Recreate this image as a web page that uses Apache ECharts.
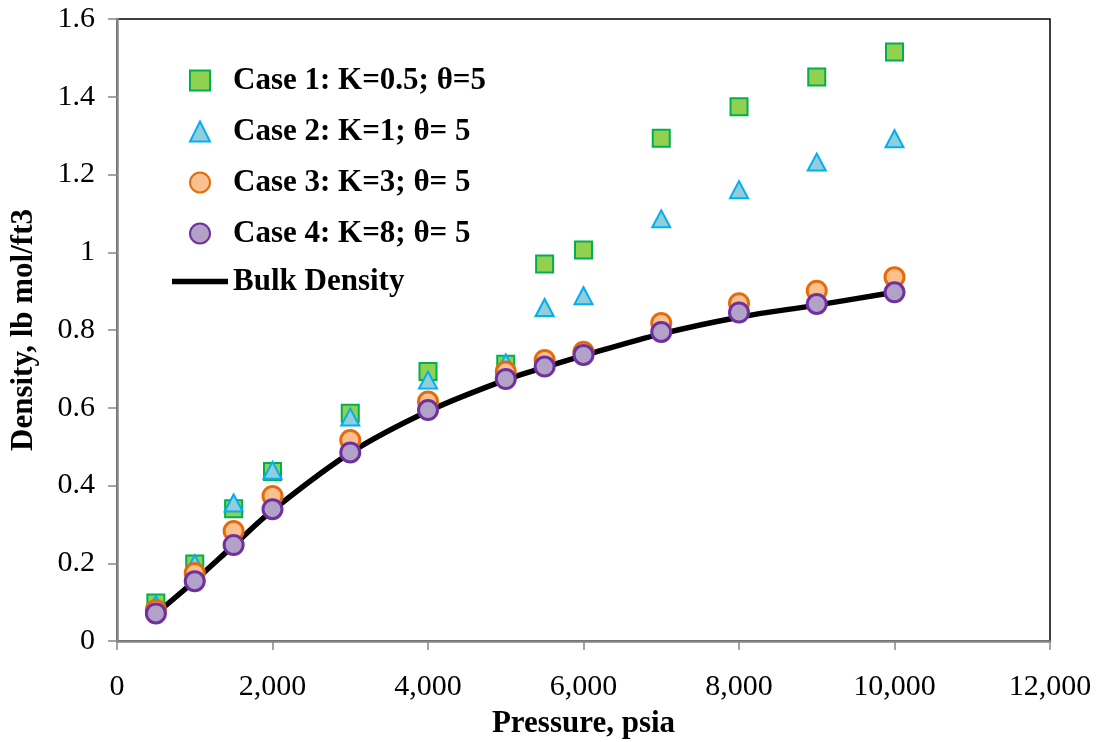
<!DOCTYPE html>
<html>
<head>
<meta charset="utf-8">
<script src="https://cdn.jsdelivr.net/npm/echarts@6/dist/echarts.min.js"></script>
<style>
  html, body { margin: 0; padding: 0; background: #fff; }
  #chart { width: 1106px; height: 742px; }
</style>
</head>
<body>
<div id="chart"></div>
<script>
// Pressure (psia) and adsorbed-phase density (lb mol/ft3) for each case
const pressure = [500, 1000, 1500, 2000, 3000, 4000, 5000, 5500, 6000, 7000, 8000, 9000, 10000];
const case1 = [0.098, 0.198, 0.340, 0.436, 0.586, 0.693, 0.712, 0.970, 1.006, 1.293, 1.374, 1.451, 1.515];
const case2 = [0.094, 0.199, 0.355, 0.439, 0.576, 0.671, 0.715, 0.858, 0.888, 1.086, 1.161, 1.232, 1.292];
const case3 = [0.080, 0.175, 0.283, 0.373, 0.517, 0.616, 0.693, 0.723, 0.744, 0.818, 0.869, 0.901, 0.936];
const case4 = [0.071, 0.154, 0.247, 0.339, 0.485, 0.594, 0.674, 0.706, 0.736, 0.795, 0.845, 0.867, 0.897];
const bulk  = [0.070, 0.155, 0.246, 0.336, 0.484, 0.591, 0.672, 0.704, 0.734, 0.790, 0.833, 0.864, 0.897];

const seriesNames = [
  'Case 1: K=0.5; θ=5',
  'Case 2: K=1; θ= 5',
  'Case 3: K=3; θ= 5',
  'Case 4: K=8; θ= 5',
  'Bulk Density'
];

const pairs = arr => pressure.map((p, i) => [p, arr[i]]);

const FONT = '"Liberation Serif", "Times New Roman", serif';
const AXIS_GREY = '#868686';
const legendText = {
  fontFamily: FONT, fontWeight: 'bold', fontSize: 31, color: '#000', lineHeight: 31
};

const chart = echarts.init(document.getElementById('chart'), null, { renderer: 'canvas' });

chart.setOption({
  animation: false,
  backgroundColor: '#ffffff',
  grid: {
    left: 117, right: 56, top: 19, bottom: 101,
    containLabel: false,
    outerBoundsMode: 'none',
    show: true, borderColor: '#000000', borderWidth: 1.5, backgroundColor: 'transparent'
  },
  legend: [
    {
      // marker entries
      orient: 'vertical',
      left: 189,
      top: 65,
      padding: 0,
      itemWidth: 20,
      itemHeight: 20,
      itemGap: 20,
      data: seriesNames.slice(0, 4),
      textStyle: Object.assign({ padding: [0, 0, 0, 18] }, legendText)
    },
    {
      // bulk density line entry, drawn as a short thick bar
      orient: 'vertical',
      left: 172,
      top: 266,
      padding: 0,
      itemWidth: 56,
      itemHeight: 5.5,
      data: [{ name: seriesNames[4], icon: 'rect' }],
      textStyle: legendText
    }
  ],
  xAxis: {
    type: 'value',
    min: 0, max: 12000, interval: 2000,
    name: 'Pressure, psia',
    nameLocation: 'middle',
    nameGap: 67,
    nameTextStyle: { fontFamily: FONT, fontWeight: 'bold', fontSize: 31, color: '#000' },
    axisLine: { show: true, lineStyle: { color: AXIS_GREY, width: 2.5 } },
    axisTick: { show: true, inside: false, length: 9, lineStyle: { color: AXIS_GREY, width: 1.5 } },
    axisLabel: {
      margin: 31,
      fontFamily: FONT, fontSize: 30, color: '#000',
      formatter: v => v.toLocaleString('en-US')
    },
    splitLine: { show: false }
  },
  yAxis: {
    type: 'value',
    min: 0, max: 1.6, interval: 0.2,
    name: 'Density, lb mol/ft3',
    nameLocation: 'middle',
    nameGap: 78,
    nameTextStyle: { fontFamily: FONT, fontWeight: 'bold', fontSize: 31, color: '#000' },
    axisLine: { show: true, lineStyle: { color: AXIS_GREY, width: 2.5 } },
    axisTick: { show: true, inside: false, length: 9, lineStyle: { color: AXIS_GREY, width: 1.5 } },
    axisLabel: {
      margin: 22,
      fontFamily: FONT, fontSize: 30, color: '#000',
      formatter: v => String(Math.round(v * 10) / 10)
    },
    splitLine: { show: false }
  },
  series: [
    {
      name: seriesNames[4],
      type: 'line',
      data: pairs(bulk),
      smooth: 0.35,
      symbol: 'none',
      lineStyle: { color: '#000000', width: 5.5 },
      itemStyle: { color: '#000000' },
      z: 1
    },
    {
      name: seriesNames[0],
      type: 'scatter',
      data: pairs(case1),
      symbol: 'rect',
      symbolSize: 17,
      itemStyle: { color: '#92D050', borderColor: '#00B050', borderWidth: 2, opacity: 1 },
      z: 2
    },
    {
      name: seriesNames[1],
      type: 'scatter',
      data: pairs(case2),
      symbol: 'triangle',
      symbolSize: [18, 17],
      itemStyle: { color: '#92CDDC', borderColor: '#00B0F0', borderWidth: 2, opacity: 1 },
      z: 3
    },
    {
      name: seriesNames[2],
      type: 'scatter',
      data: pairs(case3),
      symbol: 'circle',
      symbolSize: 19,
      itemStyle: { color: '#FAC090', borderColor: '#E46C0A', borderWidth: 3, opacity: 1 },
      z: 4
    },
    {
      name: seriesNames[3],
      type: 'scatter',
      data: pairs(case4),
      symbol: 'circle',
      symbolSize: 19,
      itemStyle: { color: '#B3A2C7', borderColor: '#7030A0', borderWidth: 3, opacity: 1 },
      z: 5
    }
  ]
});
</script>
</body>
</html>
